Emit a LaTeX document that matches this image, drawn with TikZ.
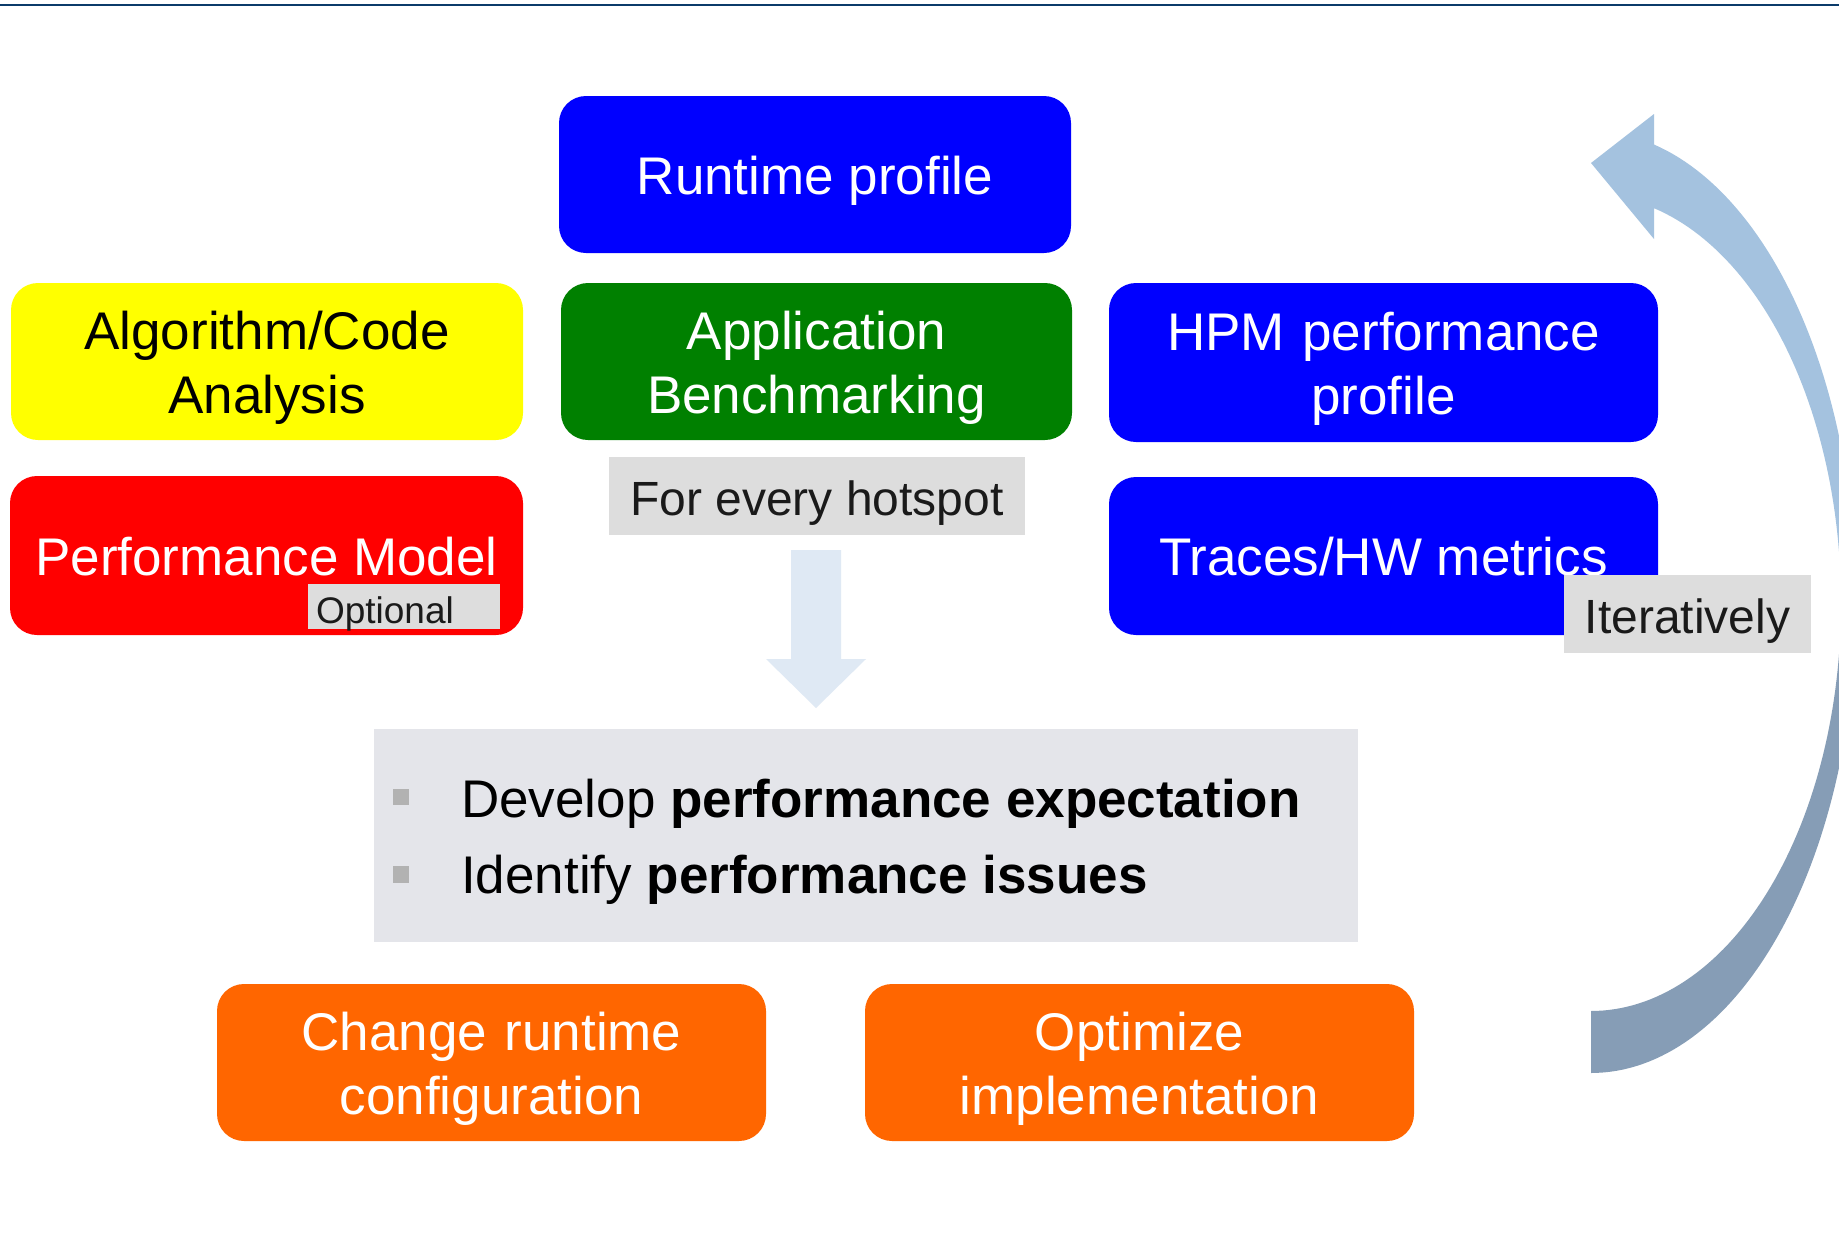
\documentclass[tikz,border=0pt]{standalone}
\usepackage{fontspec}
\setmainfont{Liberation Sans}

\definecolor{pblue}{HTML}{0000FF}
\definecolor{pgreen}{HTML}{008000}
\definecolor{pyellow}{HTML}{FFFF00}
\definecolor{pred}{HTML}{FF0000}
\definecolor{porange}{HTML}{FF6600}
\definecolor{tagfill}{HTML}{DDDDDD}
\definecolor{tagtext}{HTML}{1A1A1A}
\definecolor{expfill}{HTML}{E4E5EA}
\definecolor{bulletgray}{HTML}{B2B2B2}
\definecolor{downfill}{HTML}{DFE9F4}
\definecolor{looplight}{HTML}{A4C2DF}
\definecolor{loopdark}{HTML}{869DB6}
\definecolor{rulecolor}{HTML}{0B3B6A}

\newcommand\bxfont{\fontsize{53pt}{64pt}\selectfont}
\newcommand\tgfont{\fontsize{48pt}{56pt}\selectfont}
\newcommand\smfont{\fontsize{37pt}{44pt}\selectfont}

\tikzset{
  box/.style={rounded corners=27pt, inner sep=0pt, align=center, font=\bxfont,
              text=white, minimum width=512pt, minimum height=157pt},
  oneline/.style={text height=50pt, text depth=11pt},
  twoline/.style={text width=#1, text height=50pt, text depth=75pt},
  tag/.style={fill=tagfill, inner sep=0pt, font=\tgfont, text=tagtext,
              text height=45pt, text depth=7pt},
  bulletsq/.style={fill=bulletgray, inner sep=0pt, minimum width=16pt, minimum height=16pt},
  itemtext/.style={anchor=base west, inner sep=0pt, font=\bxfont, text=black},
}

\begin{document}
\begin{tikzpicture}[x=1pt, y=-1pt]
  \useasboundingbox (0,0) rectangle (1839,1242);
  \fill[white] (0,0) rectangle (1839,1242);

  % header rule
  \draw[rulecolor, line width=2.5pt] (0,5) -- (1839,5);

  % upper blocks
  \node[box, oneline, fill=pblue] (runtime) at (815,174.5) {Runtime profile};
  \node[box, twoline=480pt, fill=pyellow, text=black] (algo) at (267,361.5) {Algorithm/Code\\Analysis};
  \node[box, twoline=480pt, fill=pgreen, minimum width=511pt] (bench) at (816.5,361.5) {Application\\Benchmarking};
  \node[box, twoline=520pt, fill=pblue, minimum width=549pt, minimum height=159pt] (hpm) at (1383.5,362.5) {HPM performance\\profile};
  \node[box, oneline, fill=pred, minimum width=513pt, minimum height=159pt] (model) at (266.5,555.5) {Performance Model};
  \node[box, oneline, fill=pblue, minimum width=549pt, minimum height=158pt] (traces) at (1383.5,556) {Traces/HW metrics};

  % overlay tags
  \node[tag, font=\smfont, text width=176pt, align=left, inner xsep=8pt,
        minimum height=45pt, text height=39pt, text depth=6pt] (optional) at (404,606.5) {Optional};
  \node[tag, minimum width=416pt, minimum height=78pt] (hotspot) at (817,496) {For every hotspot};
  \node[tag, minimum width=247pt, minimum height=78pt] (iter) at (1687.5,614) {Iteratively};

  % block arrow down to the analysis step
  \fill[downfill] (791,550) -- (841,550) -- (841,659) -- (866,659) -- (816,708)
                  -- (766,659) -- (791,659) -- cycle;

  % analysis step
  \node[fill=expfill, inner sep=0pt, minimum width=984pt, minimum height=213pt] (expect) at (866,835.5) {};
  \node[bulletsq] (b1) at (401,797) {};
  \node[bulletsq, minimum height=17pt] (b2) at (401,874.5) {};
  \node[itemtext] (dev) at (461,817) {Develop \textbf{performance expectation}};
  \node[itemtext] (ident) at (461,893) {Identify \textbf{performance issues}};

  % actions
  \node[box, twoline=520pt, fill=porange, minimum width=549pt] (change) at (491.5,1062.5) {Change runtime\\configuration};
  \node[box, twoline=520pt, fill=porange, minimum width=549pt] (optimize) at (1139.5,1062.5) {Optimize\\implementation};

  % curved loop-back arrow on the right
  \def\looppath{(1591,1073)
      -- plot[domain=90:-76.2, samples=120] ({1591+265*cos(\x)},{602+471*sin(\x)})
      -- (1654,114) -- (1591,163) -- (1654,239)
      -- plot[domain=-75.4:90, samples=120] ({1591+250*cos(\x)},{603+408*sin(\x)})
      -- cycle}
  \begin{scope}
    \clip (0,0) rectangle (1839,600);
    \fill[looplight] \looppath;
  \end{scope}
  \begin{scope}
    \clip (0,600) rectangle (1839,1242);
    \fill[loopdark] \looppath;
  \end{scope}
\end{tikzpicture}
\end{document}
